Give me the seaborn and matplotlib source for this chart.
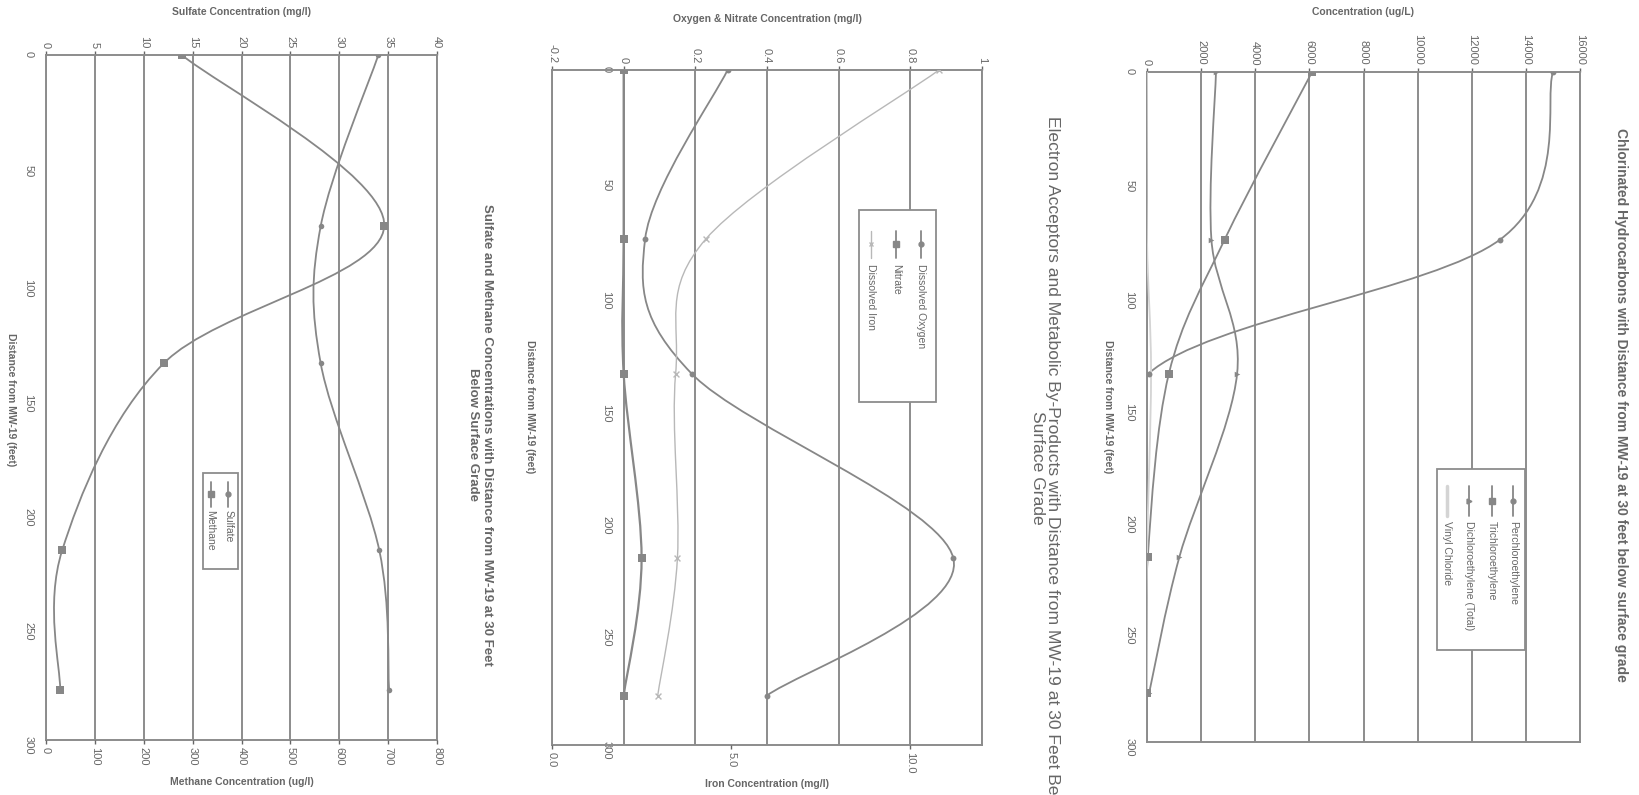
import numpy as np
import matplotlib
matplotlib.use("Agg")
import matplotlib.pyplot as plt
import seaborn as sns
from matplotlib.path import Path
from matplotlib.patches import PathPatch, Rectangle

# ---- data ----
distance = [0, 75, 135, 217, 278]
dist_ticks = [0, 50, 100, 150, 200, 250, 300]

# chlorinated hydrocarbons (ug/L)
pce = [15000, 13050, 60, 0, 0]
tce = [6100, 2870, 810, 30, 0]
dce = [2550, 2380, 3330, 1200, 80]
vinyl = [0, 0, 150, 0, 0]
conc_ticks = [0, 2000, 4000, 6000, 8000, 10000, 12000, 14000, 16000]

# electron acceptors (mg/l)
oxygen = [0.29, 0.06, 0.19, 0.92, 0.40]
nitrate = [0, 0, 0, 0.05, 0]
iron = [10.8, 4.3, 3.45, 3.5, 2.95]
ox_ticks = [-0.2, 0, 0.2, 0.4, 0.6, 0.8, 1.0]
ox_labels = ["-0.2", "0", "0.2", "0.4", "0.6", "0.8", "1"]
iron_ticks = [0, 5, 10]
iron_labels = ["0.0", "5.0", "10.0"]

# sulfate (mg/l) and methane (ug/l)
sulfate = [34.0, 28.1, 28.1, 34.1, 35.1]
methane = [278, 692, 241, 33, 29]
sulfate_ticks = [0, 5, 10, 15, 20, 25, 30, 35, 40]
methane_ticks = [0, 100, 200, 300, 400, 500, 600, 700, 800]

TEXT = "#666666"
LINE = "#878787"
GRID = "#8c8c8c"
LIGHT = "#b8b8b8"
FAINT = "#d4d4d4"

W, H = 1639, 795

sns.set_theme(style="white")
plt.rcParams["font.family"] = ["Liberation Sans", "DejaVu Sans"]

fig = plt.figure(figsize=(W / 100, H / 100), dpi=100)


def add_axes_px(x0, y0, x1, y1):
    return fig.add_axes([x0 / W, 1 - y1 / H, (x1 - x0) / W, (y1 - y0) / H])


def fig_text(x, y, s, **kw):
    fig.text(x / W, 1 - y / H, s, color=TEXT, ha="center", va="center", **kw)


def smooth(ax, xs, ys, color, lw):
    # Excel-like smoothed line: cubic bezier through the points
    pts = np.column_stack([xs, ys]).astype(float)
    n = len(pts)
    verts, codes = [pts[0]], [Path.MOVETO]
    for i in range(n - 1):
        p0, p1 = pts[max(i - 1, 0)], pts[i]
        p2, p3 = pts[i + 1], pts[min(i + 2, n - 1)]
        verts += [p1 + (p2 - p0) / 6, p2 - (p3 - p1) / 6, p2]
        codes += [Path.CURVE4] * 3
    ax.add_patch(PathPatch(Path(verts, codes), fill=False, edgecolor=color, lw=lw, zorder=3))


def top_ticks(ax):
    ax.xaxis.set_ticks_position("top")
    ax.tick_params(axis="x", top=True, bottom=False, labeltop=True, labelbottom=False,
                   labelrotation=270, labelsize=8, colors=TEXT, length=3, width=1, pad=2)


def style(ax, xlim, xticks, xlabels):
    ax.set_xlim(*xlim)
    ax.set_ylim(300, 0)
    ax.set_xticks(xticks)
    ax.set_xticklabels(xlabels)
    ax.set_yticks(dist_ticks)
    ax.set_yticklabels([str(t) for t in dist_ticks])
    top_ticks(ax)
    ax.tick_params(axis="y", labelrotation=270, labelsize=8, colors=TEXT, length=0, pad=9)
    ax.grid(axis="x", color=GRID, lw=1.4)
    ax.grid(axis="y", visible=False)
    ax.set_axisbelow(True)
    for s in ax.spines.values():
        s.set_color(GRID)
        s.set_linewidth(1.4)
    ax.set_xlabel("")
    ax.set_ylabel("")


def secondary(ax, xlim, xticks, xlabels):
    ax2 = ax.twiny()
    top_ticks(ax)  # twiny pushes the primary ticks to the bottom, put them back
    ax2.set_xlim(*xlim)
    ax2.set_xticks(xticks)
    ax2.set_xticklabels(xlabels)
    ax2.xaxis.set_ticks_position("bottom")
    ax2.tick_params(axis="x", top=False, bottom=True, labeltop=False, labelbottom=True,
                    labelrotation=270, labelsize=8, colors=TEXT, length=3, width=1, pad=2)
    ax2.grid(False)
    for s in ax2.spines.values():
        s.set_visible(False)
    return ax2


def legend(ax, box, entries, text_y, line_top, line_bot):
    x0, y0, x1, y1 = box
    ax.add_patch(Rectangle((x0, y0), x1 - x0, y1 - y0, transform=ax.transAxes,
                           facecolor="white", edgecolor=GRID, lw=1.3, zorder=8, clip_on=False))
    for x, label, marker, color, lw, ms in entries:
        ax.plot([x, x], [line_top, line_bot], transform=ax.transAxes, color=color,
                lw=lw, zorder=9, clip_on=False)
        if marker:
            ax.plot([x], [(line_top + line_bot) / 2], transform=ax.transAxes, marker=marker,
                    color=color, ms=ms, mew=1, zorder=9, clip_on=False)
        ax.text(x, text_y, label, transform=ax.transAxes, rotation=270, ha="center", va="top",
                fontsize=7.5, color=TEXT, zorder=9)


# ---------------- panel 1: chlorinated hydrocarbons ----------------
ax1 = add_axes_px(1147, 72, 1580, 742)
smooth(ax1, pce, distance, LINE, 1.3)
smooth(ax1, tce, distance, LINE, 1.3)
smooth(ax1, dce, distance, LINE, 1.3)
smooth(ax1, vinyl, distance, FAINT, 1.3)
sns.scatterplot(x=pce, y=distance, ax=ax1, marker="o", s=18, color=LINE, linewidth=0, zorder=4)
sns.scatterplot(x=tce, y=distance, ax=ax1, marker="s", s=26, color=LINE, linewidth=0, zorder=4)
sns.scatterplot(x=dce, y=distance, ax=ax1, marker=">", s=16, color=LINE, linewidth=0, zorder=4)
style(ax1, (0, 16000), conc_ticks, [str(t) for t in conc_ticks])
legend(ax1, (0.670, 0.137, 0.873, 0.408),
       [(0.845, "Perchloroethylene", "o", LINE, 1.3, 3.5),
        (0.797, "Trichloroethylene", "s", LINE, 1.3, 4),
        (0.744, "Dichloroethylene (Total)", ">", LINE, 1.3, 3.5),
        (0.693, "Vinyl Chloride", None, FAINT, 2.5, 0)],
       text_y=0.330, line_top=0.382, line_bot=0.338)
fig_text(1363, 12, "Concentration (ug/L)", fontsize=7.5, fontweight="bold")
fig_text(1108, 407, "Distance from MW-19 (feet)", fontsize=7.5, fontweight="bold", rotation=270)
fig_text(1621, 405, "Chlorinated Hydrocarbons with Distance from MW-19 at 30 feet below surface grade",
         fontsize=10, fontweight="bold", rotation=270)

# ---------------- panel 2: electron acceptors ----------------
ax2 = add_axes_px(552, 70, 982, 745)
smooth(ax2, oxygen, distance, LINE, 1.3)
smooth(ax2, nitrate, distance, LINE, 1.6)
sns.scatterplot(x=oxygen, y=distance, ax=ax2, marker="o", s=18, color=LINE, linewidth=0, zorder=4)
sns.scatterplot(x=nitrate, y=distance, ax=ax2, marker="s", s=30, color=LINE, linewidth=0, zorder=4)
style(ax2, (-0.2, 1.0), ox_ticks, ox_labels)
# distance labels sit next to the zero line (Excel axis crossing at 0)
ax2.tick_params(axis="y", labelleft=False)
dist2 = ax2.secondary_yaxis(0.2 / 1.2)
dist2.set_yticks(dist_ticks)
dist2.tick_params(axis="y", labelrotation=270, labelsize=8, colors=TEXT, length=0, pad=9)
for s in dist2.spines.values():
    s.set_visible(False)
ax2b = secondary(ax2, (0, 12), iron_ticks, iron_labels)
smooth(ax2b, iron, distance, LIGHT, 1.0)
sns.scatterplot(x=iron, y=distance, ax=ax2b, marker="x", s=18, color=LIGHT, linewidth=1, zorder=4)
ax2b.set_xlim(0, 12)
ax2b.set_xlabel("")
ax2b.set_ylabel("")
legend(ax2b, (0.713, 0.508, 0.894, 0.793),
       [(0.857, "Dissolved Oxygen", "o", LINE, 1.3, 3.5),
        (0.801, "Nitrate", "s", LINE, 1.3, 4.5),
        (0.741, "Dissolved Iron", "x", LIGHT, 1.0, 3.5)],
       text_y=0.713, line_top=0.762, line_bot=0.722)
fig_text(767, 19, "Oxygen & Nitrate Concentration (mg/l)", fontsize=7.5, fontweight="bold")
fig_text(767, 784, "Iron Concentration (mg/l)", fontsize=7.5, fontweight="bold")
fig_text(530, 407, "Distance from MW-19 (feet)", fontsize=7.5, fontweight="bold", rotation=270)
fig_text(1045, 468, "Electron Acceptors and Metabolic By-Products with Distance from MW-19 at 30 Feet Below\n"
         "Surface Grade", fontsize=12.6, rotation=270, multialignment="center", linespacing=1.05)

# ---------------- panel 3: sulfate and methane ----------------
ax3 = add_axes_px(46, 55, 437, 740)
smooth(ax3, sulfate, distance, LINE, 1.3)
sns.scatterplot(x=sulfate, y=distance, ax=ax3, marker="o", s=16, color=LINE, linewidth=0, zorder=4)
style(ax3, (0, 40), sulfate_ticks, [str(t) for t in sulfate_ticks])
ax3b = secondary(ax3, (0, 800), methane_ticks, [str(t) for t in methane_ticks])
smooth(ax3b, methane, distance, LINE, 1.3)
sns.scatterplot(x=methane, y=distance, ax=ax3b, marker="s", s=30, color=LINE, linewidth=0, zorder=4)
ax3b.set_xlim(0, 800)
ax3b.set_xlabel("")
ax3b.set_ylabel("")
legend(ax3b, (0.401, 0.250, 0.490, 0.390),
       [(0.466, "Sulfate", "o", LINE, 1.3, 3.5),
        (0.421, "Methane", "s", LINE, 1.3, 4.5)],
       text_y=0.336, line_top=0.377, line_bot=0.340)
fig_text(241, 12, "Sulfate Concentration (mg/l)", fontsize=7.5, fontweight="bold")
fig_text(242, 782, "Methane Concentration (ug/l)", fontsize=7.5, fontweight="bold")
fig_text(11, 400, "Distance from MW-19 (feet)", fontsize=7.5, fontweight="bold", rotation=270)
fig_text(480, 435, "Sulfate and Methane Concentrations with Distance from MW-19 at 30 Feet\n"
         "Below Surface Grade", fontsize=9.5, fontweight="bold", rotation=270, multialignment="center")

fig.savefig("out.png", dpi=100)
